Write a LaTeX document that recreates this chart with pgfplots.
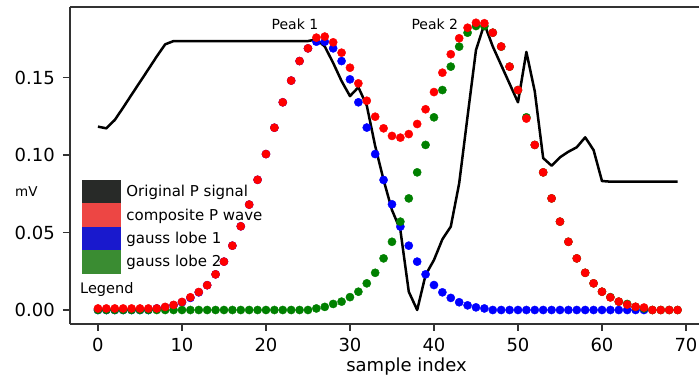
\documentclass[border=0pt]{standalone}
\usepackage{fontspec}
\setmainfont{DejaVu Sans}
\usepackage{pgfplots}
\pgfplotsset{compat=1.18}
\definecolor{legblack}{RGB}{40,42,40}
\definecolor{legred}{RGB}{237,70,68}
\definecolor{legblue}{RGB}{25,25,205}
\definecolor{leggreen}{RGB}{58,140,50}
\definecolor{dotgreen}{RGB}{0,128,0}
\definecolor{spine}{RGB}{50,50,50}
\begin{document}
\begin{tikzpicture}
\begin{axis}[
  name=ax,
  scale only axis, width=629pt, height=317pt,
  xmin=-3.33, xmax=71.55, ymin=-0.00903, ymax=0.19548,
  axis x line*=box, axis y line*=left,
  axis line style={spine, line width=1.2pt},
  xtick={0,10,20,30,40,50,60,70},
  ytick={0,0.05,0.1,0.15},
  xtick pos=bottom, ytick pos=left,
  scaled y ticks=false,
  /pgf/number format/assume math mode=true,
  tick align=outside, major tick length=7pt,
  tick style={spine, line width=1.2pt},
  tick label style={font=\fontsize{18}{21}\selectfont},
  yticklabel style={/pgf/number format/fixed, /pgf/number format/fixed zerofill, /pgf/number format/precision=2, inner xsep=0pt, xshift=-8pt},
  xticklabel style={inner ysep=0pt, yshift=-7pt},
  xlabel={sample index},
  xlabel style={font=\fontsize{18}{21}\selectfont, at={(axis description cs:0.535,-0.1514)}, anchor=base, inner sep=0pt},
  ylabel={mV},
  ylabel style={font=\fontsize{13.5}{16}\selectfont, rotate=-90, at={(axis description cs:-0.0874,0.4164)}, anchor=west, inner sep=0pt},
  legend style={at={(axis description cs:0.0191,0.4543)}, anchor=north west, draw=none, fill=none,
    inner sep=0pt, outer sep=0pt, row sep=0pt, column sep=6pt,
    font=\fontsize{15}{18}\selectfont, nodes={inner sep=0pt, outer sep=0pt}},
  legend cell align=left,
]
\addlegendimage{legend image code/.code={\fill[legblack] (0pt,-11.5pt) rectangle (38pt,11.5pt);}}
\addlegendentry{Original P signal}
\addlegendimage{legend image code/.code={\fill[legred] (0pt,-11.5pt) rectangle (38pt,11.5pt);}}
\addlegendentry{composite P wave}
\addlegendimage{legend image code/.code={\fill[legblue] (0pt,-11.5pt) rectangle (38pt,11.5pt);}}
\addlegendentry{gauss lobe 1}
\addlegendimage{legend image code/.code={\fill[leggreen] (0pt,-11.5pt) rectangle (38pt,11.5pt);}}
\addlegendentry{gauss lobe 2}

% gauss lobe 1
\addplot[forget plot, only marks, mark=*, mark size=4.1pt, color=blue] coordinates {
(0,0) (1,0) (2,0) (3,0) (4,0) (5,0) (6,0) (7,0.001) (8,0.0017) (9,0.003)
(10,0.005) (11,0.0078) (12,0.0114) (13,0.016) (14,0.023) (15,0.0312) (16,0.0415) (17,0.054) (18,0.068) (19,0.084)
(20,0.1006) (21,0.1176) (22,0.134) (23,0.148) (24,0.1606) (25,0.1688) (26,0.1731) (27,0.1731) (28,0.1688) (29,0.1606)
(30,0.1488) (31,0.134) (32,0.1177) (33,0.1006) (34,0.0839) (35,0.0682) (36,0.0538) (37,0.0415) (38,0.0312) (39,0.023)
(40,0.0161) (41,0.0114) (42,0.0078) (43,0.005) (44,0.003) (45,0.0017) (46,0.001) (47,0) (48,0) (49,0)
(50,0) (51,0) (52,0) (53,0) (54,0) (55,0) (56,0) (57,0) (58,0) (59,0)
(60,0) (61,0) (62,0) (63,0) (64,0) (65,0)
};
% gauss lobe 2
\addplot[forget plot, only marks, mark=*, mark size=4.1pt, color=dotgreen] coordinates {
(0,0) (1,0) (2,0) (3,0) (4,0) (5,0) (6,0) (7,0) (8,0) (9,0)
(10,0) (11,0) (12,0) (13,0) (14,0) (15,0) (16,0) (17,0) (18,0) (19,0)
(20,0) (21,0) (22,0) (23,0) (24,0) (25,0) (26,0.001) (27,0.002) (28,0.0039) (29,0.0054)
(30,0.0083) (31,0.0118) (32,0.0172) (33,0.024) (34,0.0333) (35,0.044) (36,0.057) (37,0.072) (38,0.0888) (39,0.1065)
(40,0.1243) (41,0.1419) (42,0.157) (43,0.1699) (44,0.1789) (45,0.1832) (46,0.1832) (47,0.1789) (48,0.1699) (49,0.157)
(50,0.1419) (51,0.1243) (52,0.1065) (53,0.0888) (54,0.072) (55,0.057) (56,0.044) (57,0.0333) (58,0.024) (59,0.0172)
(60,0.0118) (61,0.0083) (62,0.0054) (63,0.0039) (64,0.002) (65,0.001) (66,0) (67,0) (68,0) (69,0)
};
% composite P wave
\addplot[forget plot, only marks, mark=*, mark size=4.1pt, color=red] coordinates {
(0,0.001) (1,0.001) (2,0.001) (3,0.001) (4,0.001) (5,0.001) (6,0.001) (7,0.001) (8,0.002) (9,0.0033)
(10,0.0052) (11,0.0082) (12,0.0116) (13,0.016) (14,0.023) (15,0.0312) (16,0.0415) (17,0.054) (18,0.068) (19,0.084)
(20,0.1006) (21,0.1176) (22,0.134) (23,0.148) (24,0.1606) (25,0.1688) (26,0.1757) (27,0.1764) (28,0.1727) (29,0.166)
(30,0.1563) (31,0.1462) (32,0.135) (33,0.1247) (34,0.1172) (35,0.1123) (36,0.1112) (37,0.1135) (38,0.12) (39,0.1295)
(40,0.1406) (41,0.1531) (42,0.165) (43,0.1753) (44,0.1821) (45,0.1853) (46,0.185) (47,0.1789) (48,0.170) (49,0.157)
(50,0.1419) (51,0.1235) (52,0.1065) (53,0.0888) (54,0.072) (55,0.057) (56,0.044) (57,0.0333) (58,0.024) (59,0.0172)
(60,0.0118) (61,0.0081) (62,0.0054) (63,0.0035) (64,0.0021) (65,0.0016) (66,0) (67,0) (68,0) (69,0)
};
% original P signal
\addplot[forget plot, black, line width=2.5pt, line join=round, no marks] coordinates {
(0,0.1183) (1,0.1172) (2,0.1226) (3,0.1306) (4,0.1389) (5,0.1471) (6,0.1553) (7,0.1636) (8,0.1714) (9,0.1735)
(10,0.1735) (11,0.1735) (12,0.1735) (13,0.1735) (14,0.1735) (15,0.1735) (16,0.1735) (17,0.1735) (18,0.1735) (19,0.1735)
(20,0.1735) (21,0.1735) (22,0.1735) (23,0.1735) (24,0.1735) (25,0.1735) (26,0.1746) (27,0.170) (28,0.1594) (29,0.1477)
(30,0.138) (31,0.1437) (32,0.1319) (33,0.1058) (34,0.0839) (35,0.0645) (36,0.0516) (37,0.0118) (38,0.0) (39,0.0226)
(40,0.0323) (41,0.0456) (42,0.0538) (43,0.0817) (44,0.125) (45,0.1677) (46,0.1845) (47,0.170) (48,0.158) (49,0.146)
(50,0.134) (51,0.1665) (52,0.141) (53,0.098) (54,0.0931) (55,0.0985) (56,0.1021) (57,0.105) (58,0.1114) (59,0.1032)
(60,0.0832) (61,0.0828) (62,0.0828) (63,0.0828) (64,0.0828) (65,0.0828) (66,0.0828) (67,0.0828) (68,0.0828) (69,0.0828)
};
\node[font=\fontsize{14}{17}\selectfont, inner sep=0pt] at (axis cs:23.45,0.1845) {Peak 1};
\node[font=\fontsize{14}{17}\selectfont, inner sep=0pt] at (axis cs:40.1,0.1845) {Peak 2};
\node[font=\fontsize{14.5}{17}\selectfont, inner sep=0pt, anchor=west] at (axis description cs:0.0159,0.1073) {Legend};
\end{axis}
\pgfresetboundingbox
\path[use as bounding box] ([xshift=-70pt,yshift=-58pt]ax.south west) rectangle ([yshift=7pt]ax.north east);
\end{tikzpicture}
\end{document}
